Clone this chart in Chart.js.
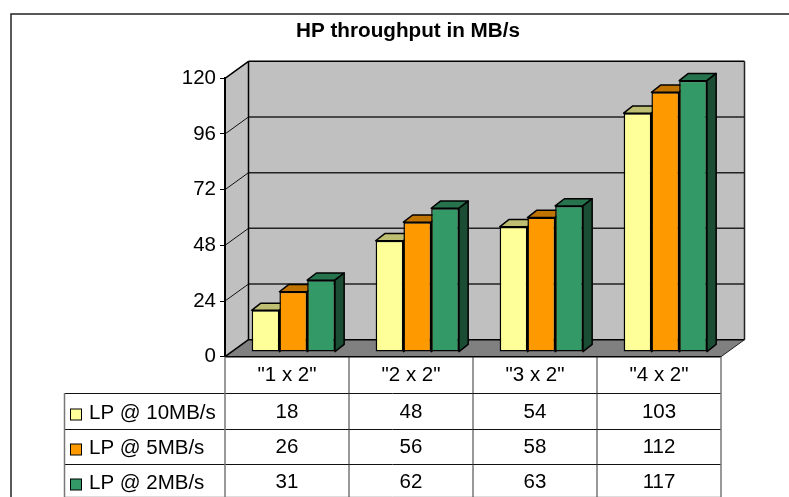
<!DOCTYPE html>
<html lang="en">
<head>
<meta charset="utf-8">
<title>HP throughput in MB/s</title>
<script src="https://cdn.jsdelivr.net/npm/chart.js@4/dist/chart.umd.min.js"></script>
<style>
  html, body { margin: 0; padding: 0; background: #fff; }
  #wrap { position: relative; width: 789px; height: 497px; overflow: hidden; }
</style>
</head>
<body>
<div id="wrap"><canvas id="chart" width="789" height="497"></canvas></div>
<script>
var categories = ['"1 x 2"', '"2 x 2"', '"3 x 2"', '"4 x 2"'];
var seriesNames = ['LP @ 10MB/s', 'LP @ 5MB/s', 'LP @ 2MB/s'];
var lp10 = [18, 48, 54, 103];
var lp5 = [26, 56, 58, 112];
var lp2 = [31, 62, 63, 117];
var yMax = 120;
var yStep = 24;

var fronts = ['#FFFF99', '#FF9900', '#339966'];
var tops = ['#BFBF73', '#BF7300', '#26734D'];
var sides = ['#808050', '#804D00', '#1A4D33'];

var FONT = '"Liberation Sans", Arial, sans-serif';
var TEXT_SIZE = 20.5;

// 3d offsets
var WALL_DX = 23.5, WALL_DY = -17;   // floor depth
var BAR_DX = 6.3, BAR_DY = -4.6;     // bars stand a bit inside the floor
var DEPTH_DX = 9.2, DEPTH_DY = -7.2; // depth of a bar

// table under the plot
var TABLE_LEFT = 64;
var ROW_LINES = [393, 429, 464, 496];

function line(ctx, x1, y1, x2, y2, color, width) {
  ctx.strokeStyle = color;
  ctx.lineWidth = width;
  ctx.beginPath();
  ctx.moveTo(x1, y1);
  ctx.lineTo(x2, y2);
  ctx.stroke();
}

function poly(ctx, pts, fill, stroke, width) {
  ctx.beginPath();
  ctx.moveTo(pts[0][0], pts[0][1]);
  for (var i = 1; i < pts.length; i++) ctx.lineTo(pts[i][0], pts[i][1]);
  ctx.closePath();
  ctx.fillStyle = fill;
  ctx.fill();
  if (stroke) {
    ctx.strokeStyle = stroke;
    ctx.lineWidth = width;
    ctx.lineJoin = 'round';
    ctx.stroke();
  }
}

var frame3d = {
  id: 'frame3d',
  beforeDraw: function (chart) {
    var ctx = chart.ctx, a = chart.chartArea, y = chart.scales.y;
    ctx.save();
    // outer frame, runs off the window on the right and at the bottom
    ctx.strokeStyle = '#222';
    ctx.lineWidth = 1.5;
    ctx.strokeRect(11, 14, 900, 600);

    var bx1 = a.left + WALL_DX, bx2 = a.right + WALL_DX;
    var by1 = a.top + WALL_DY, by2 = a.bottom + WALL_DY;
    poly(ctx, [[a.left, a.top], [bx1, by1], [bx1, by2], [a.left, a.bottom]], '#C0C0C0');
    poly(ctx, [[bx1, by1], [bx2, by1], [bx2, by2], [bx1, by2]], '#C0C0C0');

    // grid on the walls
    y.ticks.forEach(function (t) {
      if (t.value === 0 || t.value === yMax) return;
      var py = y.getPixelForValue(t.value);
      line(ctx, a.left, py, bx1, py + WALL_DY, '#111', 1);
      line(ctx, bx1, py + WALL_DY, bx2, py + WALL_DY, '#222', 1.5);
    });

    // floor
    poly(ctx, [[a.left, a.bottom], [bx1, by2], [bx2, by2], [a.right, a.bottom]], '#808080');
    line(ctx, bx1, by2, bx2, by2, '#000', 1.5);
    line(ctx, a.left, a.bottom, bx1, by2, '#000', 1.5);
    line(ctx, a.right, a.bottom, bx2, by2, '#222', 1);
    line(ctx, a.left, a.top, bx1, by1, '#000', 1.5);
    line(ctx, bx1, by1, bx2, by1, '#000', 1.5);
    line(ctx, bx1, by1, bx1, by2, '#000', 1.5);
    line(ctx, bx2, by1, bx2, by2, '#222', 1.5);
    ctx.restore();
  },
  beforeDatasetsDraw: function (chart) {
    var ctx = chart.ctx;
    ctx.save();
    ctx.translate(BAR_DX, BAR_DY);
    // tops and sides first, the fronts from the library go over them
    chart.data.datasets.forEach(function (ds, i) {
      chart.getDatasetMeta(i).data.forEach(function (bar) {
        var p = bar.getProps(['x', 'y', 'base', 'width'], true);
        var l = p.x - p.width / 2, r = p.x + p.width / 2;
        poly(ctx, [[l, p.y], [l + DEPTH_DX, p.y + DEPTH_DY], [r + DEPTH_DX, p.y + DEPTH_DY], [r, p.y]], tops[i], '#000', 1.5);
        poly(ctx, [[r, p.y], [r + DEPTH_DX, p.y + DEPTH_DY], [r + DEPTH_DX, p.base + DEPTH_DY], [r, p.base]], sides[i], '#000', 1.5);
      });
    });
  },
  afterDatasetsDraw: function (chart) {
    chart.ctx.restore();
  },
  afterDraw: function (chart) {
    var ctx = chart.ctx, a = chart.chartArea, x = chart.scales.x;
    var colW = (a.right - a.left) / categories.length;
    ctx.save();
    // table lines
    ROW_LINES.forEach(function (ry, i) {
      line(ctx, TABLE_LEFT, ry + 0.5, a.right, ry + 0.5, i === 3 ? '#ddd' : '#111', 1);
    });
    line(ctx, a.left, a.bottom, a.right, a.bottom, '#000', 1.5);
    for (var c = 1; c < categories.length; c++) {
      line(ctx, a.left + c * colW, a.bottom, a.left + c * colW, 497, '#333', 1);
    }
    line(ctx, a.left, a.bottom, a.left, 497, '#777', 1.5);
    line(ctx, a.right, a.bottom, a.right, 497, '#777', 1.5);
    line(ctx, TABLE_LEFT + 0.5, ROW_LINES[0], TABLE_LEFT + 0.5, 497, '#777', 1.5);

    // table text
    ctx.font = TEXT_SIZE + 'px ' + FONT;
    ctx.textBaseline = 'alphabetic';
    chart.data.datasets.forEach(function (ds, i) {
      var base = [418, 453, 488][i];
      ctx.textAlign = 'left';
      ctx.fillStyle = '#000';
      ctx.fillText(seriesNames[i], 89, base + 1);
      ctx.fillStyle = fronts[i];
      ctx.fillRect(70.5, base - 9, 11, 11);
      ctx.strokeStyle = '#000';
      ctx.lineWidth = 1;
      ctx.strokeRect(70.5, base - 9, 11, 11);
      ctx.textAlign = 'center';
      ctx.fillStyle = '#000';
      ds.data.forEach(function (v, k) {
        ctx.fillText(String(v), x.getPixelForValue(k), base);
      });
    });
    ctx.restore();
  }
};

new Chart(document.getElementById('chart'), {
  type: 'bar',
  data: {
    labels: categories,
    datasets: [
      { label: seriesNames[0], data: lp10, backgroundColor: fronts[0] },
      { label: seriesNames[1], data: lp5, backgroundColor: fronts[1] },
      { label: seriesNames[2], data: lp2, backgroundColor: fronts[2] }
    ]
  },
  plugins: [frame3d],
  options: {
    responsive: false,
    animation: false,
    layout: {
      autoPadding: false,
      padding: { left: 95, right: 68, top: 18.6, bottom: 0 }
    },
    datasets: {
      bar: {
        categoryPercentage: 0.672,
        barPercentage: 1,
        borderColor: '#000',
        borderWidth: 1.5,
        borderSkipped: false,
        inflateAmount: 0
      }
    },
    plugins: {
      legend: { display: false },
      tooltip: { enabled: false },
      title: {
        display: true,
        text: 'HP throughput in MB/s',
        color: '#000',
        font: { family: FONT, size: 20.7, weight: 'bold', lineHeight: 1.2 },
        padding: { top: 0, bottom: 34.86 }
      }
    },
    scales: {
      x: {
        grid: { display: false },
        border: { display: false },
        ticks: { color: '#000', font: { family: FONT, size: TEXT_SIZE }, padding: -2, maxRotation: 0 },
        afterFit: function (s) { s.height = 140.3; }
      },
      y: {
        min: 0,
        max: yMax,
        ticks: { stepSize: yStep, color: '#000', font: { family: FONT, size: TEXT_SIZE }, padding: 4 },
        grid: { drawOnChartArea: false, drawTicks: true, tickLength: 5, color: '#000', lineWidth: 1 },
        border: { display: true, color: '#000', width: 2 },
        afterFit: function (s) { s.width = 130; }
      }
    }
  }
});
</script>
</body>
</html>
